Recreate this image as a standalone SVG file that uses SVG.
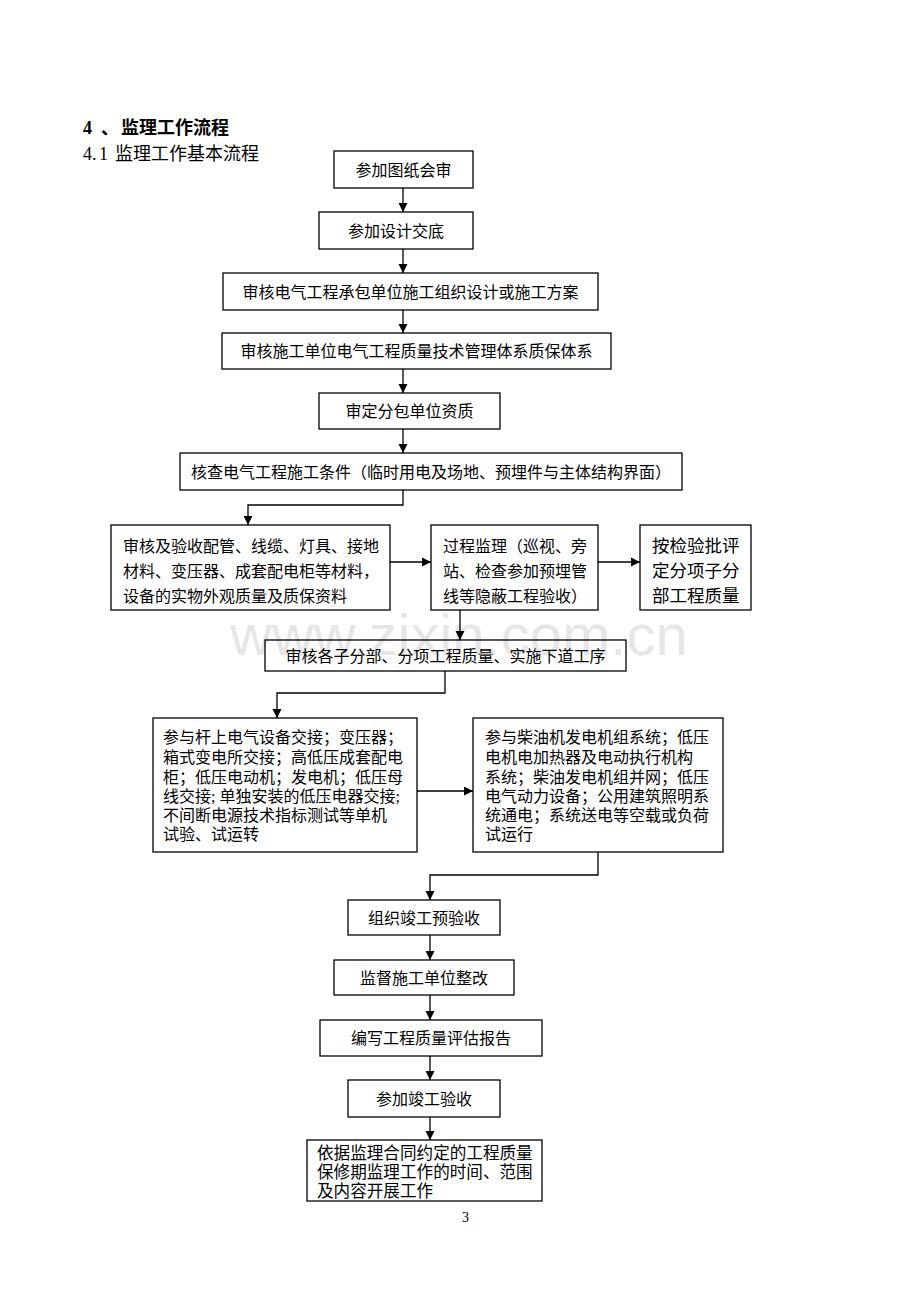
<svg xmlns="http://www.w3.org/2000/svg" width="920" height="1302" viewBox="0 0 920 1302">
<defs>
<marker id="ah" viewBox="0 0 10 10" refX="10" refY="5" markerWidth="9" markerHeight="10" markerUnits="userSpaceOnUse" orient="auto"><path d="M0,0 L10,5 L0,10 z" fill="#000"/></marker>
</defs>
<style>
.bx{fill:none;stroke:#000;stroke-width:1.3}
.t{font-family:"Liberation Serif","Noto Sans CJK SC",serif;font-size:16px;fill:#000}
.c{text-anchor:middle}
.cn path{fill:none;stroke:#000;stroke-width:1.3;marker-end:url(#ah)}
.wm{font-family:"Liberation Sans",Arial,sans-serif;font-size:58px;fill:#e6e6e6}
</style>
<rect width="920" height="1302" fill="#fff"/>
<text class="wm" x="230" y="655">www.zixin.com.cn</text>
<text class="t" y="134" style="font-size:18px;font-weight:bold"><tspan x="83">4</tspan><tspan x="101">、</tspan><tspan x="121">监理工作流程</tspan></text>
<text class="t" y="160" style="font-size:18px"><tspan x="83">4.</tspan><tspan x="99">1</tspan><tspan x="115">监理工作基本流程</tspan></text>

<g id="n1"><rect class="bx" x="334" y="151" width="139" height="37"/><text class="t c" x="403.5" y="175.5">参加图纸会审</text></g>
<g id="n2"><rect class="bx" x="319" y="212" width="154" height="37"/><text class="t c" x="396" y="236.5">参加设计交底</text></g>
<g id="n3"><rect class="bx" x="223" y="273" width="375" height="37"/><text class="t c" x="410.5" y="297.5">审核电气工程承包单位施工组织设计或施工方案</text></g>
<g id="n4"><rect class="bx" x="222" y="333" width="389" height="36"/><text class="t c" x="416.5" y="357">审核施工单位电气工程质量技术管理体系质保体系</text></g>
<g id="n5"><rect class="bx" x="319" y="393" width="181" height="36"/><text class="t c" x="409.5" y="417">审定分包单位资质</text></g>
<g id="n6"><rect class="bx" x="180" y="453" width="502" height="37"/><text class="t c" x="431" y="477.5">核查电气工程施工条件（临时用电及场地、预埋件与主体结构界面）</text></g>
<g id="n7"><rect class="bx" x="111" y="525" width="279" height="85"/>
<text class="t" x="123" y="552">审核及验收配管、线缆、灯具、接地</text>
<text class="t" x="123" y="577">材料、变压器、成套配电柜等材料，</text>
<text class="t" x="123" y="602">设备的实物外观质量及质保资料</text></g>
<g id="n8"><rect class="bx" x="431" y="525" width="167" height="85"/>
<text class="t" x="443" y="552">过程监理（巡视、旁</text>
<text class="t" x="443" y="577">站、检查参加预埋管</text>
<text class="t" x="443" y="602">线等隐蔽工程验收）</text></g>
<g id="n9"><rect class="bx" x="640" y="525" width="111" height="85"/>
<text class="t" x="652" y="552" style="font-size:17.5px">按检验批评</text>
<text class="t" x="652" y="577" style="font-size:17.5px">定分项子分</text>
<text class="t" x="652" y="602" style="font-size:17.5px">部工程质量</text></g>
<g id="n10"><rect class="bx" x="265" y="640" width="361" height="31"/><text class="t c" x="445.5" y="661.5">审核各子分部、分项工程质量、实施下道工序</text></g>
<g id="n11"><rect class="bx" x="153" y="718" width="264" height="134"/>
<text class="t" x="163" y="743">参与杆上电气设备交接；变压器；</text>
<text class="t" x="163" y="763">箱式变电所交接；高低压成套配电</text>
<text class="t" x="163" y="783">柜；低压电动机；发电机；低压母</text>
<text class="t" x="163" y="802">线交接; 单独安装的低压电器交接;</text>
<text class="t" x="163" y="821">不间断电源技术指标测试等单机</text>
<text class="t" x="163" y="840">试验、试运转</text></g>
<g id="n12"><rect class="bx" x="473" y="718" width="250" height="134"/>
<text class="t" x="485" y="743">参与柴油机发电机组系统；低压</text>
<text class="t" x="485" y="763">电机电加热器及电动执行机构</text>
<text class="t" x="485" y="783">系统；柴油发电机组并网；低压</text>
<text class="t" x="485" y="802">电气动力设备；公用建筑照明系</text>
<text class="t" x="485" y="821">统通电；系统送电等空载或负荷</text>
<text class="t" x="485" y="840">试运行</text></g>
<g id="n13"><rect class="bx" x="348" y="900" width="152" height="35"/><text class="t c" x="424" y="923.5">组织竣工预验收</text></g>
<g id="n14"><rect class="bx" x="334" y="960" width="180" height="35"/><text class="t c" x="424" y="983.5">监督施工单位整改</text></g>
<g id="n15"><rect class="bx" x="320" y="1020" width="222" height="36"/><text class="t c" x="431" y="1044">编写工程质量评估报告</text></g>
<g id="n16"><rect class="bx" x="348" y="1080" width="152" height="37"/><text class="t c" x="424" y="1104.5">参加竣工验收</text></g>
<g id="n17"><rect class="bx" x="307" y="1140" width="235" height="61"/>
<text class="t" x="317" y="1159" style="font-size:16.6px">依据监理合同约定的工程质量</text>
<text class="t" x="317" y="1178" style="font-size:16.6px">保修期监理工作的时间、范围</text>
<text class="t" x="317" y="1197" style="font-size:16.6px">及内容开展工作</text></g>
<text class="t" x="462" y="1222" style="font-size:14px">3</text>

<g id="connectors" class="cn">
<path d="M403 188V212"/>
<path d="M403 249V273"/>
<path d="M403 310V333"/>
<path d="M403 369V393"/>
<path d="M403 429V453"/>
<path d="M403 490V505H248V525"/>
<path d="M390 562H431"/>
<path d="M598 562H640"/>
<path d="M460 610V640"/>
<path d="M445 671V693H277V718"/>
<path d="M417 791H473"/>
<path d="M598 852V875H430V900"/>
<path d="M430 935V960"/>
<path d="M430 995V1020"/>
<path d="M430 1056V1080"/>
<path d="M430 1117V1140"/>
</g>
</svg>
